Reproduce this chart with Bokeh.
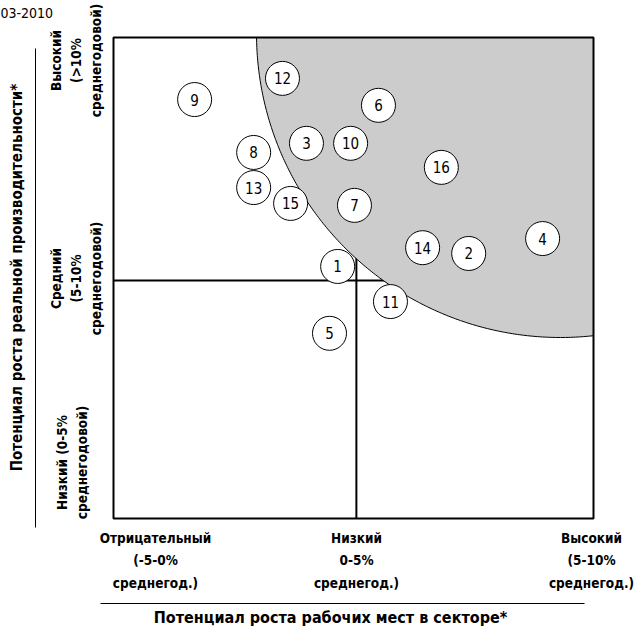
import numpy as np
from bokeh.plotting import figure
from bokeh.models import Range1d
from bokeh.core.properties import value
from bokeh.embed import file_html
from bokeh.resources import INLINE

# ---------------- data ----------------
sector_ids = ["1", "2", "3", "4", "5", "6", "7", "8",
              "9", "10", "11", "12", "13", "14", "15", "16"]
jobs_growth = [46.7, 74.0, 40.2, 89.4, 45.0, 55.2, 50.2, 29.2,
               16.9, 49.4, 57.7, 35.2, 29.2, 64.4, 36.9, 68.3]
productivity_growth = [52.4, 55.1, 78.0, 58.2, 38.5, 85.9, 65.1, 76.1,
                       87.1, 78.0, 45.1, 91.5, 68.8, 56.3, 65.5, 73.0]

x_cat_labels = ["Отрицательный\n(-5-0%\nсреднегод.)",
                "Низкий\n0-5%\nсреднегод.)",
                "Высокий\n(5-10%\nсреднегод.)"]
y_cat_labels = ["Высокий\n(>10%\nсреднегодовой)",
                "Средний\n(5-10%\nсреднегодовой)",
                "Низкий (0-5%\nсреднегодовой)"]
x_title = "Потенциал роста рабочих мест в секторе*"
y_title = "Потенциал роста реальной производительности*"
period = "03-2010"

# ---------------- layout helpers (page pixels -> data) ----------------
W, H = 636, 637
SX, SY = 4.8, 4.81
BOX_L, BOX_B = 113, 518


def X(px):
    return (px - BOX_L) / SX


def Y(py):
    return (BOX_B - py) / SY


FONT = value("Liberation Sans Narrow, DejaVu Sans Condensed, sans-serif")

p = figure(width=W, height=H,
           x_range=Range1d(X(0), X(W)), y_range=Range1d(Y(H), Y(0)),
           output_backend="svg", toolbar_location=None, min_border=0,
           x_axis_location=None, y_axis_location=None)
p.grid.visible = False
p.outline_line_color = None
p.background_fill_color = "white"

MID_X, MID_Y = 50.6, 49.5

# quadrant lines (under the shaded area)
p.segment(x0=[MID_X, 0], y0=[0, MID_Y], x1=[MID_X, 100], y1=[100, MID_Y],
          line_color="black", line_width=2)

# shaded high-potential area: circle clipped to the box (computed in px)
cx, cy, r = 560.0, 33.0, 304.0
top_py, right_px = 37.0, 593.0
t1 = np.arctan2(top_py - cy, -np.sqrt(r ** 2 - (top_py - cy) ** 2))
t2 = np.arctan2(np.sqrt(r ** 2 - (right_px - cx) ** 2), right_px - cx)
t1 = t1 if t1 > 0 else t1 + 2 * np.pi
th = np.linspace(t1, t2, 200)
ax = cx + r * np.cos(th)
ay = cy + r * np.sin(th)
px_poly = list(ax) + [right_px]
py_poly = list(ay) + [top_py]
p.patch([X(v) for v in px_poly], [Y(v) for v in py_poly],
        fill_color="#cccccc", line_color=None)
p.line([X(v) for v in ax], [Y(v) for v in ay], line_color="black", line_width=1)

# box
p.quad(left=0, right=100, bottom=0, top=100, fill_color=None,
       line_color="black", line_width=2)

# bubbles
p.scatter(jobs_growth, productivity_growth, size=34, fill_color="white",
          line_color="black", line_width=1)
p.text(jobs_growth, productivity_growth, text=sector_ids, text_font=FONT,
       text_font_size="15px", text_align="center", text_baseline="middle",
       text_color="black")

# x category labels
p.text(x=[X(155), X(356), X(591)], y=[Y(560)] * 3, text=x_cat_labels,
       text_font=FONT, text_font_style="bold", text_font_size="13.5px",
       text_align="center", text_baseline="middle", text_line_height=1.4,
       text_color="black")

# y category labels (rotated)
p.text(x=[X(75), X(75), X(71)], y=[Y(60), Y(278), Y(462)], text=y_cat_labels,
       text_font=FONT, text_font_style="bold", text_font_size="13.5px",
       text_align="center", text_baseline="middle", text_line_height=1.25,
       angle=np.pi / 2, text_color="black")

# axis titles with rules
p.segment(x0=[X(100), X(35)], y0=[Y(603), Y(48)], x1=[X(584), X(35)],
          y1=[Y(603), Y(527)], line_color="black", line_width=1)
p.text(x=[X(330)], y=[Y(617)], text=[x_title], text_font=FONT,
       text_font_style="bold", text_font_size="16px", text_align="center",
       text_baseline="middle", text_color="black")
p.text(x=[X(16)], y=[Y(277)], text=[y_title], text_font=FONT,
       text_font_style="bold", text_font_size="15px", text_align="center",
       text_baseline="middle", angle=np.pi / 2, text_color="black")

p.text(x=[X(0)], y=[Y(12)], text=[period], text_font=FONT,
       text_font_size="14px", text_align="left", text_baseline="middle",
       text_color="black")

open("out.html", "w").write(file_html(p, INLINE))
